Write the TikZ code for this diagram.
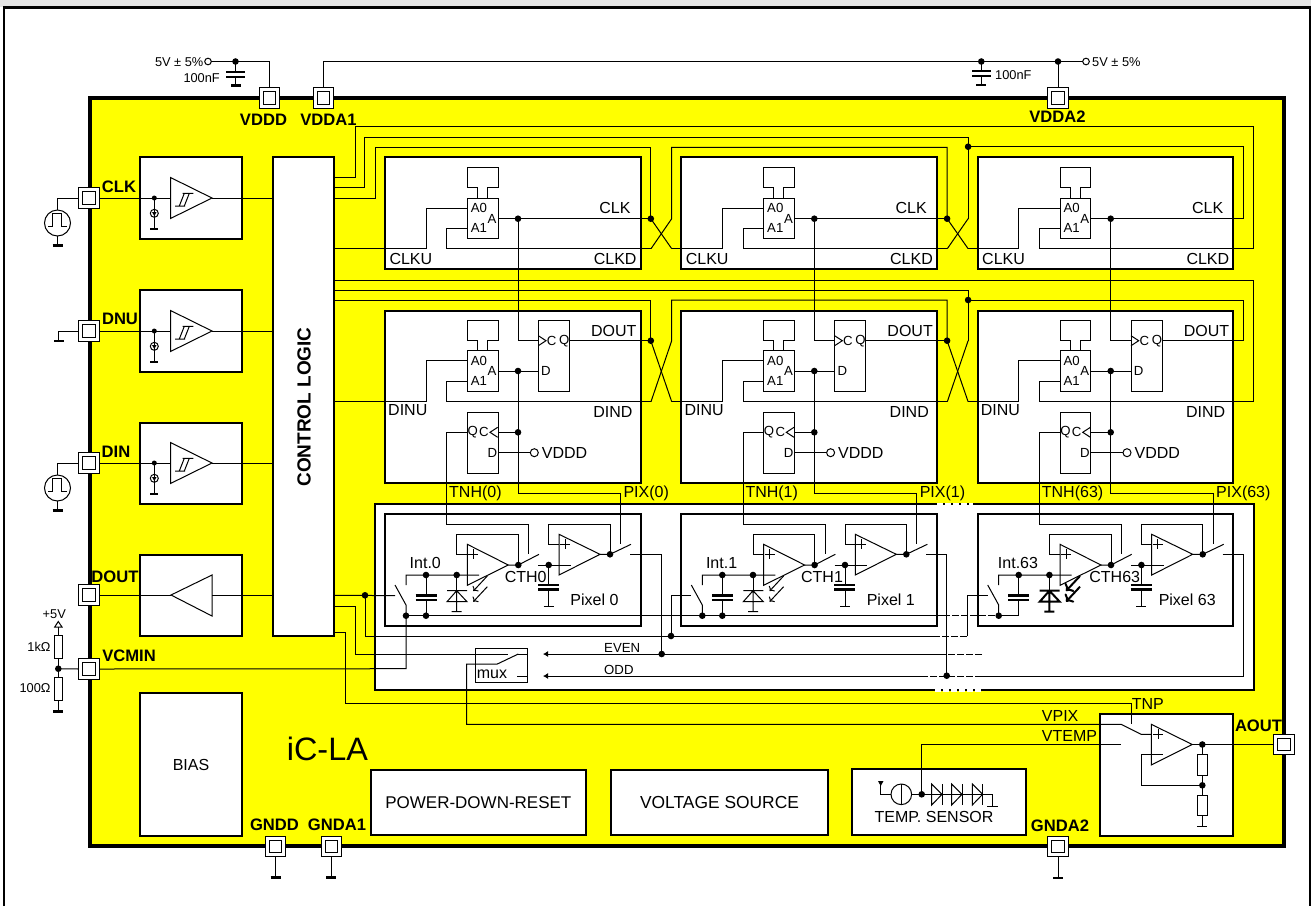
\documentclass[tikz,border=0pt]{standalone}
\usepackage{fontspec}
\setmainfont{Liberation Sans}
\usetikzlibrary{arrows.meta}
\definecolor{chipyellow}{RGB}{255,255,0}
\definecolor{headgray}{RGB}{228,228,228}

\begin{document}
\begin{tikzpicture}[x=1pt,y=-1pt,
  wire/.style={line width=1pt},
  gapwire/.style={line width=1pt,dash pattern=on 7pt off 2pt},
  bar/.style={line width=2.4pt},
  plate/.style={line width=2.4pt},
  block/.style={draw,fill=white,line width=2pt,inner sep=0pt,outer sep=0pt,anchor=north west},
  part/.style={draw,fill=white,line width=1pt,inner sep=0pt,outer sep=0pt,anchor=north west},
  pad/.style={draw,fill=white,line width=1pt,inner sep=0pt,outer sep=0pt,minimum size=20.5pt,
    path picture={\draw[line width=1pt] (path picture bounding box.center) +(-6.2,-6.2) rectangle +(6.2,6.2);}},
  padlbl/.style={inner sep=0pt,font=\fontsize{16.6}{18}\selectfont\bfseries},
  lbl/.style={inner sep=0pt,font=\fontsize{16}{18}\selectfont},
  big/.style={inner sep=0pt,font=\fontsize{17}{19}\selectfont},
  small/.style={inner sep=0pt,font=\fontsize{13.2}{15}\selectfont},
  tiny/.style={inner sep=0pt,font=\fontsize{12.8}{14}\selectfont}]
\useasboundingbox (0,0) rectangle (1311,906);
% frame
\fill[headgray] (0,0) rectangle (1311,7);
\draw[line width=2.4pt] (4,906)--(4,7.5)--(1310,7.5)--(1310,906);
% chip
\draw[fill=chipyellow,line width=4pt] (90,98) rectangle (1284,846);
\node[block,minimum width=879.6pt,minimum height=186pt] (pixbox) at (374.7,504) {};
% left column
\node[block,minimum width=102pt,minimum height=81.7pt] (blkclk) at (140,157) {};
\node[block,minimum width=102pt,minimum height=81.7pt] (blkdnu) at (140,290) {};
\node[block,minimum width=102pt,minimum height=81.7pt] (blkdin) at (140,422.7) {};
\node[block,minimum width=102pt,minimum height=81.7pt] (blkdout) at (140,554.7) {};
\node[block,minimum width=102pt,minimum height=143pt,font=\fontsize{16}{18}\selectfont] (bias) at (140,693) {BIAS};
\node[block,minimum width=61.6pt,minimum height=479pt] (ctrl) at (272.7,157) {};
\node[rotate=90,inner sep=0pt,font=\fontsize{19}{21}\selectfont\bfseries] (ctrltxt) at (304,407) {CONTROL LOGIC};
% bottom blocks
\node[block,minimum width=215.3pt,minimum height=65.3pt,font=\fontsize{17}{19}\selectfont] (pwrblk) at (370.7,770) {POWER-DOWN-RESET};
\node[block,minimum width=217pt,minimum height=65.3pt,font=\fontsize{17.4}{19}\selectfont] (srcblk) at (611,770) {VOLTAGE SOURCE};
\node[block,minimum width=173.7pt,minimum height=65.7pt] (tmpblk) at (852,769) {};
\node[block,minimum width=133.3pt,minimum height=122pt] (outblk) at (1100,714) {};
\node[inner sep=0pt,font=\fontsize{32.4}{34}\selectfont,anchor=west] (chipname) at (286.7,749) {iC-LA};
% pads
\node[pad] (padvddd) at (269.5,98) {};
\node[pad] (padvdda1) at (323.5,98) {};
\node[pad] (padvdda2) at (1058,98) {};
\node[pad] (padclk) at (89,198) {};
\node[pad] (paddnu) at (89,331) {};
\node[pad] (paddin) at (89,463) {};
\node[pad] (paddout) at (89,595) {};
\node[pad] (padvcmin) at (89,669) {};
\node[pad] (padgndd) at (275.7,846.7) {};
\node[pad] (padgnda1) at (331.3,846.7) {};
\node[pad] (padgnda2) at (1058,846.7) {};
\node[pad] (padaout) at (1284,744.5) {};
\node[padlbl] (lblvddd) at (263.5,120) {VDDD};
\node[padlbl] (lblvdda1) at (328.5,120) {VDDA1};
\node[padlbl] (lblvdda2) at (1057.5,117) {VDDA2};
\node[padlbl] (lblclk) at (119,187) {CLK};
\node[padlbl] (lbldnu) at (120,319) {DNU};
\node[padlbl] (lbldin) at (116,452) {DIN};
\node[padlbl] (lbldout) at (115,577) {DOUT};
\node[padlbl] (lblvcmin) at (129,656) {VCMIN};
\node[padlbl] (lblgndd) at (274.5,825) {GNDD};
\node[padlbl] (lblgnda1) at (337,825) {GNDA1};
\node[padlbl] (lblgnda2) at (1060,826) {GNDA2};
\node[padlbl] (lblaout) at (1258.5,726) {AOUT};
% supplies
\node[tiny,anchor=east] (lblsup1) at (203.5,62) {5V ± 5\%};
\node[tiny,anchor=east] (lblcap1) at (220,78) {100nF};
\node[tiny,anchor=west] (lblsup2) at (1092,62) {5V ± 5\%};
\node[tiny,anchor=west] (lblcap2) at (995,75) {100nF};
\draw[wire] (208,61.5) circle (3.3pt);
\draw[wire] (211.3,61.5) -| (padvddd.north);
\draw[wire] (235.5,61.5)--(235.5,72) (235.5,77)--(235.5,85.5);
\fill (235.5,61.5) circle (3.3pt);
\draw[line width=1.6pt] (226,72)--(245,72) (226,77)--(245,77);
\draw[bar] (231,85.5)--(241,85.5);
\draw[wire] (1086,61.5) circle (3.3pt);
\draw[wire] (padvdda1.north) |- (1082.7,61.5);
\draw[wire] (padvdda2.north)--(1058,61.5);
\fill (1058,61.5) circle (3.3pt);
\fill (981.3,61.5) circle (3.3pt);
\draw[wire] (981.3,61.5)--(981.3,71) (981.3,76)--(981.3,85);
\draw[line width=1.6pt] (972,71)--(991,71) (972,76)--(991,76);
\draw[bar] (976.3,85)--(986.3,85);
% grounds of the bottom pads
\draw[wire] (padgndd.south)--(275.7,877.3);
\draw[bar] (270.7,877.3)--(280.7,877.3);
\draw[wire] (padgnda1.south)--(331.3,877.3);
\draw[bar] (326.3,877.3)--(336.3,877.3);
\draw[wire] (padgnda2.south)--(1058,877.7);
\draw[bar] (1053,877.7)--(1063,877.7);
% inputs
\foreach \nm/\y in {clk/198,dnu/331,din/463}{
  \draw[wire] (pad\nm.east)--(170.5,\y);
  \draw[wire] (170.5,\y-20.5)--(170.5,\y+20.5)--(212,\y)--cycle;
  \draw[wire] (212,\y)--(ctrl.west |- pad\nm);
  \draw[wire] (175,\y+8)--(185,\y+8) (182.7,\y-4.7)--(193.3,\y-4.7)
    (179.3,\y+8)--(184.3,\y-4.7) (184.3,\y+8)--(189.3,\y-4.7);
  \fill (154.3,\y) circle (2.5pt);
  \draw[wire] (154.3,\y)--(154.3,\y+31);
  \draw[wire] (154.3,\y+15.3) circle (4pt);
  \fill (152,\y+14)--(156.6,\y+14)--(154.3,\y+18)--cycle;
  \draw[line width=1.6pt] (150.3,\y+31)--(158.3,\y+31);
}
% sources
\foreach \nm/\y in {clk/223,din/488}{
  \draw[wire] (pad\nm.west) -| (57.5,\y-13);
  \draw[wire] (57.5,\y) circle (13pt);
  \draw[wire] (48.3,\y+3.7)--(52.7,\y+3.7)--(52.7,\y-9.7)--(61,\y-9.7)--(61,\y+3.7)--(66.7,\y+3.7);
  \draw[wire] (57.5,\y+13)--(57.5,\y+22.5);
  \draw[bar] (52.5,\y+22.5)--(62.5,\y+22.5);
}
\draw[wire] (paddnu.west) -| (58.5,341);
\draw[bar] (54,341)--(64,341);
% data out
\draw[wire] (paddout.east)--(171,595);
\draw[wire] (171,595)--(212,575)--(212,616)--cycle;
\draw[wire] (212,595)--(ctrl.west |- paddout);
% bias divider
\node[tiny] (lblp5) at (54.3,614) {+5V};
\node[tiny,anchor=east] (lblr1) at (50.7,647.3) {1kΩ};
\node[tiny,anchor=east] (lblr2) at (50.7,688.3) {100Ω};
\draw[wire] (54.7,627)--(62,627)--(58.3,621.5)--cycle;
\draw[wire] (58.3,627)--(58.3,711);
\node[part,minimum width=8.3pt,minimum height=23pt] (rup) at (54,635.7) {};
\node[part,minimum width=8.3pt,minimum height=23pt] (rdn) at (54,677.3) {};
\fill (58.3,668.7) circle (3.3pt);
\draw[wire] (58.3,668.7)--(padvcmin.west);
\draw[bar] (53.3,711.3)--(63.3,711.3);
% cells
\foreach \i/\cx/\n/\bx/\dw/\cth in {0/385/0/266/1/140.7,1/681.3/1/266/1/140.7,2/977.7/63/275.6/2/137}{
\begin{scope}[shift={(\cx,0)}]
\node[block,minimum width=255.7pt,minimum height=112pt] (ckcell\i) at (0,157.3) {};
\node[block,minimum width=255.7pt,minimum height=172.6pt] (dacell\i) at (0,310.7) {};
\node[block,minimum width=255.7pt,minimum height=112pt] (pxcell\i) at (0,514) {};
\coordinate (ckq\i) at (265.8,218.7);
\coordinate (ckd\i) at (\bx,248.7);
\coordinate (cku\i) at (-9.6,248.7);
\coordinate (ckt\i) at (-9.6,218.7);
\coordinate (dq\i) at (265.8,340.7);
\coordinate (dd\i) at (\bx,401.7);
\coordinate (du\i) at (-9.6,401.7);
\coordinate (dt\i) at (-9.6,340.7);
\coordinate (pout\i) at (245,554.3);
\coordinate (psw\i) at (10,595.6);
% clock row
\node[part,minimum width=30.5pt,minimum height=40.4pt] (mck\i) at (82.5,198.3) {};
\draw[wire] (92.5,198.3)--(92.5,187.7)--(82.5,187.7)--(82.5,167.3)--(113,167.3)--(113,187.7)--(102.5,187.7)--(102.5,198.3);
\node[small,anchor=west] (cka\i) at (85.7,208.3) {A0};
\node[small,anchor=west] (ckb\i) at (85.7,228.3) {A1};
\node[small,anchor=east] (ckc\i) at (111.7,218.7) {A};
\draw[wire] (mck\i.west |- 0,208.3) -| (41,248.7)--(cku\i);
\draw[wire] (mck\i.west |- 0,228.3) -| (61.7,248.7)--(ckd\i);
\draw[wire] (mck\i.east |- 0,218.7)--(ckq\i);
\fill (133,218.7) circle (3.3pt);
\draw[wire] (133,218.7)--(133,340.7)--(153.3,340.7);
\node[lbl,anchor=east] (cklbl\i) at (245.7,208.3) {CLK};
\node[lbl,anchor=west] (cku\i t) at (4.3,259.3) {CLKU};
\node[lbl,anchor=east] (ckd\i t) at (251.7,259.3) {CLKD};
% data row
\node[part,minimum width=30.5pt,minimum height=40.6pt] (mda\i) at (82.5,350.7) {};
\draw[wire] (92.5,350.7)--(92.5,340.7)--(82.5,340.7)--(82.5,320.7)--(113,320.7)--(113,340.7)--(102.5,340.7)--(102.5,350.7);
\node[small,anchor=west] (daa\i) at (85.7,360.7) {A0};
\node[small,anchor=west] (dab\i) at (85.7,381) {A1};
\node[small,anchor=east] (dac\i) at (111.7,371) {A};
\draw[wire] (mda\i.west |- 0,360.7) -| (41,401.7)--(du\i);
\draw[wire] (mda\i.west |- 0,381) -| (61.7,401.7)--(dd\i);
\node[part,minimum width=31pt,minimum height=70.3pt] (ffa\i) at (153.3,320.7) {};
\draw[wire] (153.3,335.7)--(161,340.7)--(153.3,345.7);
\node[small] (ffac\i) at (166.7,341) {C};
\node[small] (ffaq\i) at (179.3,341) {Q};
\node[small] (ffad\i) at (161,371) {D};
\draw[wire] (ffa\i.east |- 0,340.7)--(dq\i);
\draw[wire] (mda\i.east |- 0,371)--(ffa\i.west |- 0,371);
\fill (133,371) circle (3.3pt);
\draw[wire] (133,371)--(133,493.3)-|(235.3,544);
\node[part,minimum width=30.5pt,minimum height=61pt] (ffb\i) at (82.5,412.3) {};
\node[small] (ffbq\i) at (87.7,432.3) {Q};
\node[small] (ffbc\i) at (99,432.3) {C};
\node[small] (ffbd\i) at (107.3,452.7) {D};
\draw[wire] (112.7,427.3)--(105,432.3)--(112.7,437.3);
\draw[wire] (ffb\i.east |- 0,432.3)--(133,432.3);
\fill (133,432.3) circle (3.3pt);
\draw[wire] (ffb\i.east |- 0,452.7)--(145.3,452.7);
\draw[wire] (149.3,452.7) circle (4pt);
\node[lbl,anchor=west] (ffbv\i) at (156.7,452.7) {VDDD};
\draw[wire] (ffb\i.west |- 0,432.3) -| (61.7,524)-|(143.7,554.3);
\node[lbl,anchor=east] (dalbl\i) at (251.7,331) {DOUT};
\node[lbl,anchor=west] (dau\i t) at (3,410) {DINU};
\node[lbl,anchor=east] (dad\i t) at (247.7,412) {DIND};
\node[lbl,anchor=west] (tnh\i) at (64,493) {TNH(\n)};
\node[lbl,anchor=west] (pix\i) at (238.3,493) {PIX(\n)};
% pixel row
\draw[wire] (21,615.7)--(21,605)--(10,585) (21,585)--(21,575)--(82.3,575)--(94,575);
\fill (21,615.7) circle (3.3pt);
\fill (41,575) circle (3.3pt);
\fill (71.7,575) circle (3.3pt);
\draw[wire] (41,575)--(41,595.3) (41,599.3)--(41,615.7);
\draw[plate] (30.5,595.3)--(51.5,595.3) (30.5,600)--(51.5,600);
\draw[wire] (71.7,575)--(71.7,590.7);
\draw[line width=\dw pt] (71.7,590.7)--(71.7,611.7) (66.7,611.7)--(76.7,611.7)
  (62,590.7)--(82,590.7) (71.7,590.7)--(62,601.7)--(82,601.7)--cycle;
\draw[line width=\dw pt,->] (102.3,576)--(88.3,591);
\draw[line width=\dw pt,->] (102.3,586.7)--(88.3,601.7);
\draw[wire] (82.3,544.3)--(82.3,585.3)--(123.3,565)--cycle;
\draw[wire] (83.3,554.3)--(93.3,554.3) (88.3,549.3)--(88.3,559.3);
\draw[wire] (133.3,565)--(133.3,534.7)--(71.7,534.7)--(71.7,554.3)--(82.3,554.3);
\draw[wire] (123.3,565)--(133.3,565)--(154,554.3);
\fill (133.3,565) circle (3.3pt);
\draw[wire] (153.3,565)--(186,565);
\fill (163.7,565) circle (3.3pt);
\draw[wire] (163.7,565)--(163.7,585) (163.7,589.3)--(163.7,606) (158.7,606)--(168.7,606);
\draw[plate] (153,585)--(174,585) (153,589.5)--(174,589.5);
\draw[wire] (174,534.3)--(174,575)--(215,554.3)--cycle;
\draw[wire] (175,544.3)--(185,544.3) (180,539.3)--(180,549.3);
\draw[wire] (225,554.3)--(225,524.3)--(163.7,524.3)--(163.7,544)--(174,544);
\draw[wire] (215,554.3)--(225,554.3)--(246,544.3);
\fill (225,554.3) circle (3.3pt);
\node[lbl] (intl\i) at (40.3,563.3) {Int.\n};
\node[lbl] (cth\i) at (\cth,576.7) {CTH\n};
\node[lbl] (pxl\i) at (209.5,600) {Pixel \n};
\end{scope}
}
% CLK chain
\draw[wire] (ctrl.east |- 0,248.7)--(cku0);
\draw[wire] (ctrl.east |- 0,198.3) -| (375,147.3) -| (ckq0);
\draw[wire] (ctrl.east |- 0,187.7) -| (364.7,137) -| (ckt2);
\draw[wire] (ctrl.east |- 0,177.3) -| (355,126.7) -| (ckd2);
\draw[wire] (ckq0)--(cku1);
\draw[wire] (ckd0)--(ckt1)--++(0,-71.4) -| (ckq1);
\draw[wire] (ckq1)--(cku2);
\draw[wire] (ckd1)--(ckt2);
\draw[wire] (ckt2 |- 0,146.7) -| (ckq2);
\fill (ckq0) circle (3.3pt);
\fill (ckq1) circle (3.3pt);
\fill (ckt2 |- 0,146.7) circle (3.3pt);
% DATA chain
\draw[wire] (ctrl.east |- 0,401.7)--(du0);
\draw[wire] (ctrl.east |- 0,300) -| (dq0);
\draw[wire] (ctrl.east |- 0,290) -| (dt2);
\draw[wire] (ctrl.east |- 0,280) -| (dd2);
\draw[wire] (dq0)--(du1);
\draw[wire] (dd0)--(dt1)--++(0,-40.7) -| (dq1);
\draw[wire] (dq1)--(du2);
\draw[wire] (dd1)--(dt2);
\draw[wire] (dt2 |- 0,300) -| (dq2);
\fill (dq0) circle (3.3pt);
\fill (dq1) circle (3.3pt);
\fill (dt2 |- 0,300) circle (3.3pt);
% pixel buses
\draw[wire] (ctrl.east |- 0,595.3)--(psw0);
\fill (365,595.3) circle (3.3pt);
\draw[wire] (365,595.3)--(365,636)--(933,636);
\fill (671,636) circle (3.3pt);
\draw[wire] (671,636)--(671,595.6)--(psw1);
\draw[gapwire] (933,636)--(967.7,636);
\draw[wire] (967.7,636)--(967.7,595.6)--(psw2);
\draw[wire] (406,615.7)--(943,615.7);
\draw[gapwire] (943,615.7)--(998,615.7);
\draw[wire] (998,615.7)--(1018.3,615.7);
\fill (722.3,615.7) circle (3.3pt);
\fill (426,615.7) circle (3.3pt);
\draw[wire] (pout0) -| (661.7,654);
\fill (661.7,654) circle (3.3pt);
\draw[wire] (pout1) -| (946.7,675.7);
\fill (946.7,675.7) circle (3.3pt);
\draw[wire] (pout2) -| (1243.3,676)--(982,676);
\draw[gapwire] (982,676)--(927,676);
\draw[gapwire] (982,654)--(943,654);
% mux
\node[part,minimum width=51.6pt,minimum height=33.3pt] (muxbox) at (475.7,648.7) {};
\node[lbl,anchor=west] (muxlbl) at (476.7,674.3) {mux};
\draw[wire] (ctrl.east |- 0,606) -| (355,654.3)--(508.3,654.3);
\draw[wire] (518.3,654)--(497.3,664)--(466.7,664)--(466.7,724.3)--(1121,724.3)--(1141,734.3)--(1151.3,734.3);
\draw[wire] (518.3,654)--(muxbox.east |- 0,654);
\draw[wire] (517.3,676.3)--(muxbox.east |- 0,676.3);
\draw[wire,-{Latex[length=5pt,width=6pt]}] (943,654)--(543,654);
\draw[wire,-{Latex[length=5pt,width=6pt]}] (927,676)--(543,676);
\node[small,anchor=west] (lbleven) at (604,648) {EVEN};
\node[small,anchor=west] (lblodd) at (604,670) {ODD};
\draw[wire] (padvcmin.east)--(406,668.7)--(406,615.7);
\draw[wire] (ctrl.east |- 0,632.3) -| (345,703.5)--(1131.3,703.5)--(1131.3,724.3);
% gaps in the pixel box
\draw[white,line width=3pt,dash pattern=on 6pt off 2pt] (937,504)--(973,504);
\draw[white,line width=3pt,dash pattern=on 6pt off 2pt] (935,690)--(982,690);
% output amplifier
\node[lbl,anchor=west] (lbltnp) at (1131.7,704) {TNP};
\node[lbl,anchor=west] (lblvpix) at (1041.7,716) {VPIX};
\node[lbl,anchor=west] (lblvtemp) at (1041.7,736) {VTEMP};
\draw[wire] (921.7,794.3)--(921.7,744.7)--(1121,744.7);
\draw[wire] (1151.3,724.3)--(1151.3,765)--(1192.3,744.5)--cycle;
\draw[wire] (1153.3,734.3)--(1163.3,734.3) (1158.3,729.3)--(1158.3,739.3);
\draw[wire] (1151.3,754.3)--(1163,754.3);
\draw[wire] (1192.3,744.5)--(padaout.west);
\fill (1202.3,744.5) circle (3.3pt);
\draw[wire] (1202.3,744.5)--(1202.3,826) (1197.3,826)--(1207.3,826);
\node[part,minimum width=10.5pt,minimum height=20.7pt] (rfb1) at (1197,754.3) {};
\node[part,minimum width=10.5pt,minimum height=20.4pt] (rfb2) at (1197,795.3) {};
\fill (1202.3,785.3) circle (3.3pt);
\draw[wire] (1202.3,785.3)--(1141,785.3)--(1141,754.3)--(1151.3,754.3);
% temperature sensor
\node[lbl] (lbltmp) at (934,817) {TEMP. SENSOR};
\fill (878,781)--(883.5,781)--(880.7,786)--cycle;
\draw[wire] (880.7,781)--(880.7,794.3)--(891,794.3);
\draw[wire] (901.3,794.3) circle (10.3pt);
\draw[wire] (901.3,784)--(901.3,804.6);
\draw[wire] (911.6,794.3)--(992.7,794.3)--(992.7,806.7) (987,806.7)--(998,806.7);
\fill (921.7,794.3) circle (3.3pt);
\foreach \d in {931.7,951.7,972.3}{
  \draw[wire] (\d,784)--++(0,21)--++(10.3,-10.7)--cycle;
  \draw[wire] (\d,784) ++(10.3,0)--++(0,21);
}
\end{tikzpicture}
\end{document}
